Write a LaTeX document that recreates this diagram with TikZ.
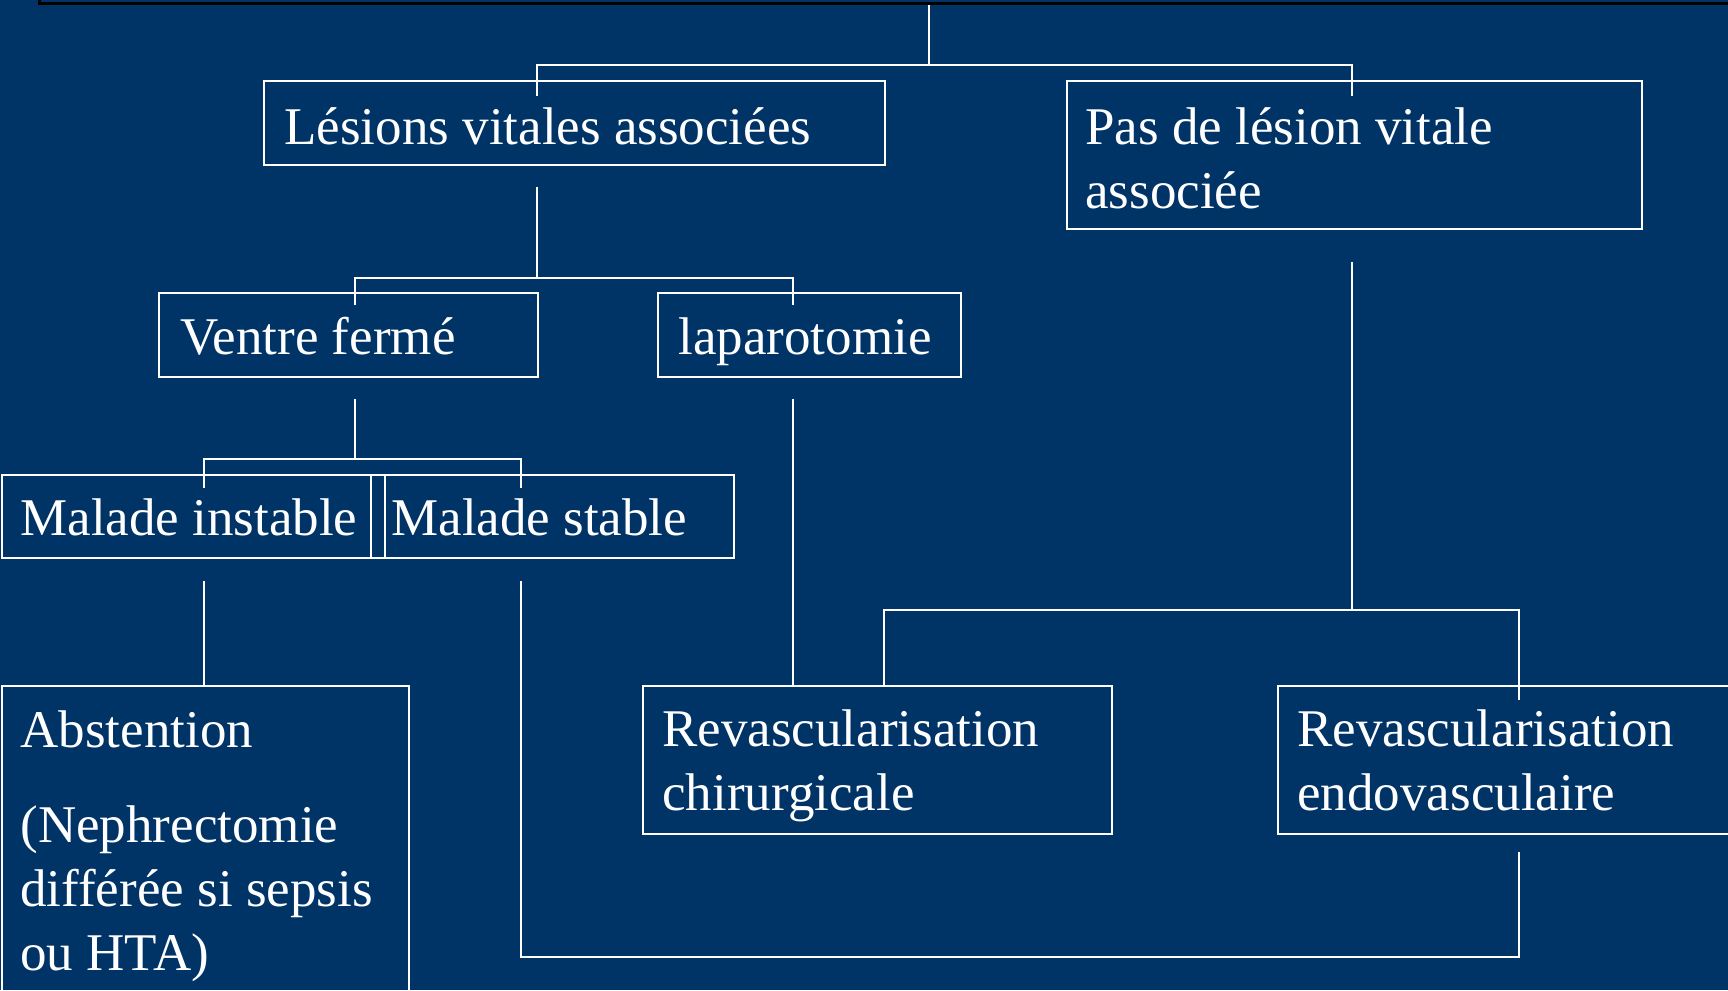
\documentclass[tikz,border=0pt]{standalone}
\usepackage{fontspec}
\setmainfont{Liberation Serif}
\definecolor{navy}{RGB}{0,51,102}
\begin{document}
\begin{tikzpicture}[x=0.5pt,y=-0.5pt,
  box/.style={draw=white, line width=1pt, rectangle, inner sep=0pt, anchor=north west},
  lbl/.style={text=white, inner sep=0pt, anchor=base west, align=left,
    font=\fontsize{26.5}{32}\selectfont},
  conn/.style={draw=white, line width=1pt}]
\fill[navy] (0,0) rectangle (1728,990);
\useasboundingbox (0,0) rectangle (1728,990);
% top box (cut off)
\node[draw=black, line width=1.5pt, rectangle, inner sep=0pt, anchor=south west,
  minimum width=861pt, minimum height=30pt] (topB) at (38,5) {};
% boxes
\node[box, minimum width=310.5pt, minimum height=42pt] (les) at (263,80) {};
\node[box, minimum width=287.5pt, minimum height=74pt] (pas) at (1066,80) {};
\node[box, minimum width=189.5pt, minimum height=42pt] (ven) at (158,292) {};
\node[box, minimum width=151.5pt, minimum height=42pt] (lap) at (657,292) {};
\node[box, minimum width=191.5pt, minimum height=41.5pt] (inst) at (1,474) {};
\node[box, minimum width=181.5pt, minimum height=41.5pt] (stab) at (370,474) {};
\node[box, minimum width=203.5pt, minimum height=170pt] (abs) at (1,685) {};
\node[box, minimum width=234.5pt, minimum height=74pt] (chir) at (642,685) {};
\node[box, minimum width=240pt, minimum height=74pt] (endo) at (1277,685) {};
% labels (base = baseline of the last line)
\node[lbl] (lesT) at (284,144) {Lésions vitales associées};
\node[lbl] (pasT) at (1085,208) {Pas de lésion vitale\\associée};
\node[lbl] (venT) at (180,354) {Ventre fermé};
\node[lbl] (lapT) at (678,354) {laparotomie};
\node[lbl] (instT) at (20,535) {Malade instable};
\node[lbl] (stabT) at (391,535) {Malade stable};
\node[lbl] (absT) at (20,747) {Abstention};
\node[lbl] (absT2) at (20,970) {(Nephrectomie\\différée si sepsis\\ou HTA)};
\node[lbl] (chirT) at (662,810) {Revascularisation\\chirurgicale};
\node[lbl] (endoT) at (1297,810) {Revascularisation\\endovasculaire};
% connector points
\coordinate (a0) at (929,5);   \coordinate (a1) at (929,65);
\coordinate (a2) at (537,96);  \coordinate (a3) at (1352,96);
\coordinate (b0) at (537,187); \coordinate (b1) at (537,278);
\coordinate (b2) at (355,305); \coordinate (b3) at (793,305);
\coordinate (c0) at (355,399); \coordinate (c1) at (355,459);
\coordinate (c2) at (204,488); \coordinate (c3) at (521,488);
\coordinate (d0) at (204,581); \coordinate (d1) at (204,685);
\coordinate (e0) at (793,399); \coordinate (e1) at (793,685);
\coordinate (f0) at (1352,262); \coordinate (f1) at (1352,610);
\coordinate (f2) at (884,685); \coordinate (f3) at (1519,700);
\coordinate (g0) at (521,581); \coordinate (g1) at (1519,852);
\coordinate (gy) at (0,957);
% connectors
\draw[conn] (a0) -- (a1);
\draw[conn] (a2) |- (a1) -| (a3);
\draw[conn] (b0) -- (b1);
\draw[conn] (b2) |- (b1) -| (b3);
\draw[conn] (c0) -- (c1);
\draw[conn] (c2) |- (c1) -| (c3);
\draw[conn] (d0) -- (d1);
\draw[conn] (e0) -- (e1);
\draw[conn] (f0) -- (f1);
\draw[conn] (f2) |- (f1) -| (f3);
\draw[conn] (g0) -- (g0 |- gy) -- (g1 |- gy) -- (g1);
\end{tikzpicture}
\end{document}
